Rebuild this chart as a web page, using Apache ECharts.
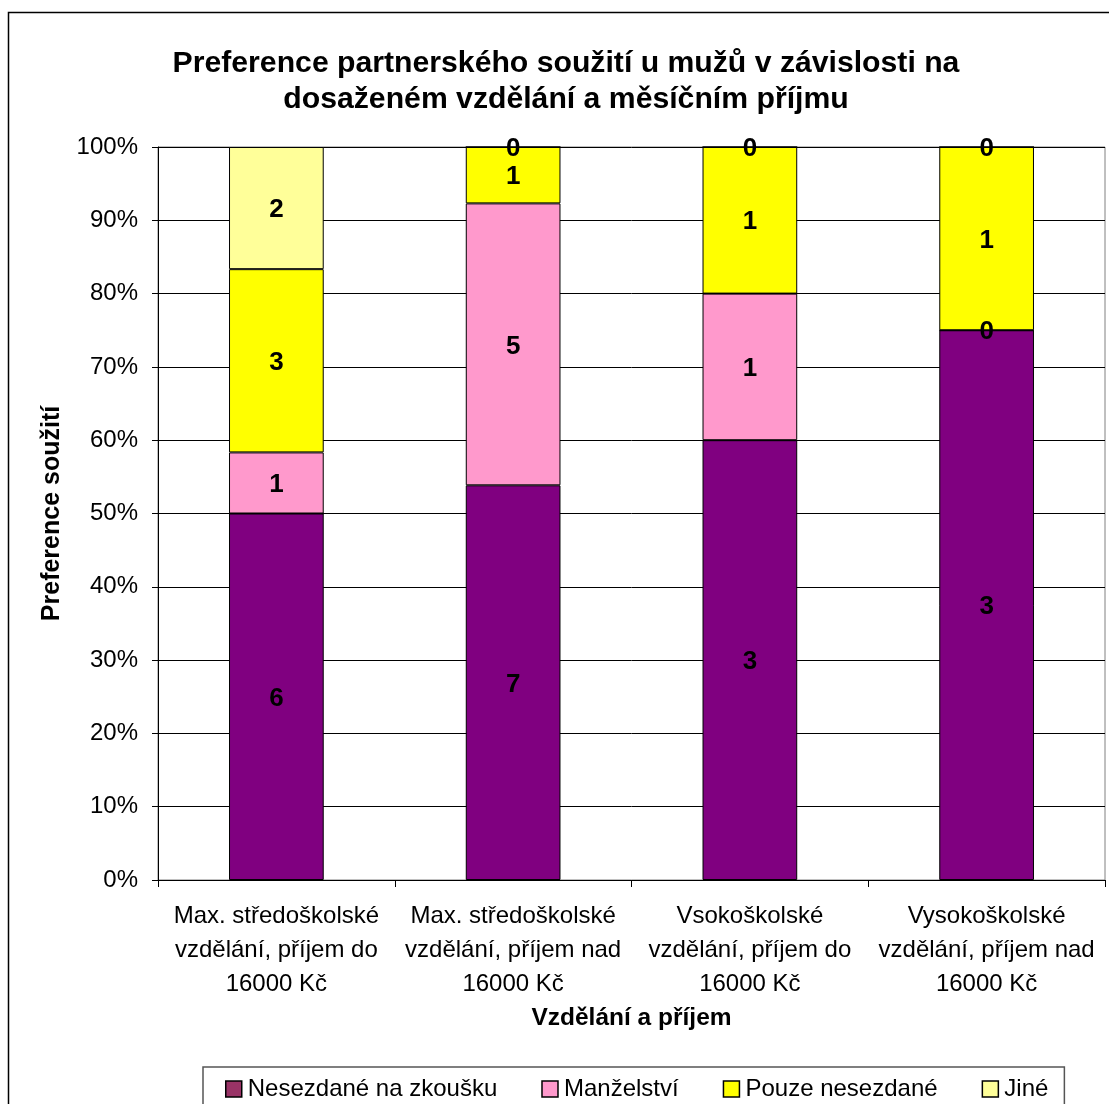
<!DOCTYPE html>
<html>
<head>
<meta charset="utf-8">
<script src="https://cdn.jsdelivr.net/npm/echarts@6/dist/echarts.min.js"></script>
<style>html,body{margin:0;padding:0;background:#fff}#c{width:1109px;height:1104px}</style>
</head>
<body>
<div id="c"></div>
<script>
const categories = [
  'Max. středoškolské\nvzdělání, příjem do\n16000 Kč',
  'Max. středoškolské\nvzdělání, příjem nad\n16000 Kč',
  'Vsokoškolské\nvzdělání, příjem do\n16000 Kč',
  'Vysokoškolské\nvzdělání, příjem nad\n16000 Kč'
];
const seriesNames = ['Nesezdané na zkoušku', 'Manželství', 'Pouze nesezdané', 'Jiné'];
const nesezdaneNaZkousku = [6, 7, 3, 3];
const manzelstvi = [1, 5, 1, 0];
const pouzeNesezdane = [3, 1, 1, 1];
const jine = [2, 0, 0, 0];
const yTicks = [0, 10, 20, 30, 40, 50, 60, 70, 80, 90, 100];

const counts = [nesezdaneNaZkousku, manzelstvi, pouzeNesezdane, jine];
const totals = categories.map((_, i) => counts.reduce((s, a) => s + a[i], 0));
const colors = ['#800080', '#FF99CC', '#FFFF00', '#FFFF99'];
const legendColors = ['#993366', '#FF99CC', '#FFFF00', '#FFFF99'];
const FONT = 'Liberation Sans, Arial, sans-serif';

const chart = echarts.init(document.getElementById('c'));
chart.setOption({
  backgroundColor: '#fff',
  animation: false,
  title: {
    text: 'Preference partnerského soužití u mužů v závislosti na\ndosaženém vzdělání a měsíčním příjmu',
    left: 561, top: 41, textAlign: 'center',
    textStyle: { fontFamily: FONT, fontSize: 30.2, fontWeight: 'bold', color: '#000', lineHeight: 36 }
  },
  graphic: [{
    type: 'rect', z: -1, silent: true,
    shape: { x: 8.5, y: 12.5, width: 1300, height: 1300 },
    style: { fill: 'none', stroke: '#000', lineWidth: 1.5 }
  }],
  legend: {
    top: 1067, left: 203,
    padding: [10, 16, 40, 22],
    itemGap: 44,
    itemWidth: 16, itemHeight: 16,
    borderColor: '#555', borderWidth: 1.5,
    textStyle: { fontFamily: FONT, fontSize: 24, color: '#000', padding: [0, 0, 0, 1] },
    data: seriesNames.map((n, i) => ({
      name: n, icon: 'rect',
      itemStyle: { color: legendColors[i], borderColor: '#000', borderWidth: 1.5 }
    }))
  },
  grid: { left: 158, right: 4, top: 147, bottom: 224, show: true, borderColor: '#808080', borderWidth: 1 },
  xAxis: {
    type: 'category', data: categories,
    name: 'Vzdělání a příjem', nameLocation: 'middle', nameGap: 125,
    nameTextStyle: { fontFamily: FONT, fontSize: 24.5, fontWeight: 'bold', color: '#000' },
    axisLine: { lineStyle: { color: '#000', width: 1 } },
    axisTick: { show: true, length: 7, alignWithLabel: false, lineStyle: { color: '#000' } },
    axisLabel: { fontFamily: FONT, fontSize: 24, color: '#000', lineHeight: 34, margin: 19, interval: 0 }
  },
  yAxis: {
    type: 'value', min: 0, max: 100, interval: 10,
    name: 'Preference soužití', nameLocation: 'middle', nameGap: 93, nameRotate: 90,
    nameTextStyle: { fontFamily: FONT, fontSize: 25, fontWeight: 'bold', color: '#000' },
    axisLine: { show: true, lineStyle: { color: '#000', width: 1 } },
    axisTick: { show: true, length: 6, lineStyle: { color: '#000' } },
    axisLabel: { fontFamily: FONT, fontSize: 24, color: '#000', margin: 20,
      formatter: v => yTicks.includes(v) ? v + '%' : '' },
    splitLine: { lineStyle: { color: '#000', width: 1 } }
  },
  series: seriesNames.map((n, si) => ({
    name: n, type: 'bar', stack: 'total', barWidth: '40%', clip: false,
    itemStyle: { color: colors[si], borderColor: '#000', borderWidth: 1 },
    label: {
      show: true, position: 'inside', offset: [0, 2],
      fontFamily: FONT, fontSize: 26, fontWeight: 'bold', color: '#000',
      formatter: p => String(counts[si][p.dataIndex])
    },
    data: counts[si].map((c, i) => c / totals[i] * 100)
  }))
});
</script>
</body>
</html>
